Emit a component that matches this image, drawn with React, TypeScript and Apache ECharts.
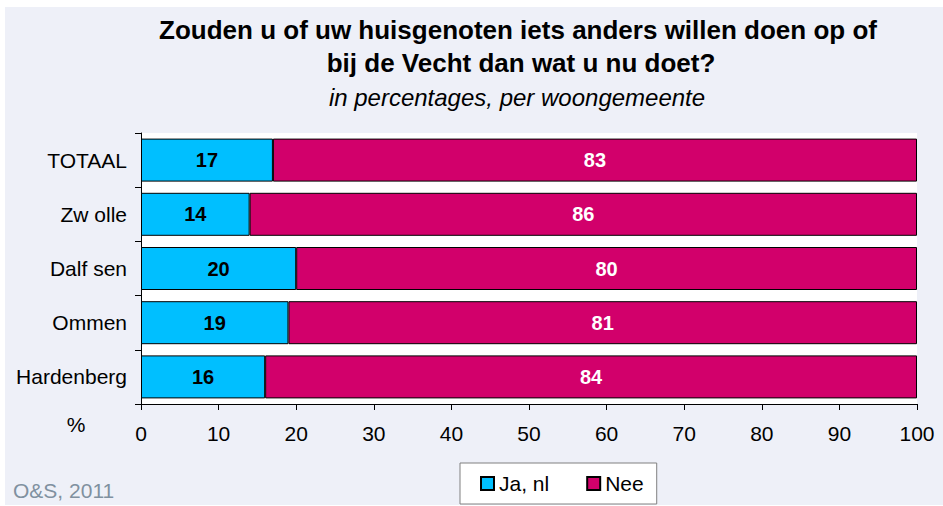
import React, { useEffect, useRef } from "react";
import * as echarts from "echarts";

const categories = ["TOTAAL", "Zwolle", "Dalfsen", "Ommen", "Hardenberg"];
const categoryLabels = ["TOTAAL", "Zw olle", "Dalf sen", "Ommen", "Hardenberg"];
const jaValues = [17, 14, 20, 19, 16];
const neeValues = [83, 86, 80, 81, 84];
const seriesNames = ["Ja, nl", "Nee"];
const xTicks = { min: 0, max: 100, interval: 10 };

const FONT = "'Liberation Sans', Arial, sans-serif";

export default function App() {
  const ref = useRef<HTMLDivElement>(null);
  useEffect(() => {
    const chart = echarts.init(ref.current!, null, { renderer: "svg" });
    chart.setOption({
      animation: false,
      backgroundColor: "#ffffff",
      textStyle: { fontFamily: FONT },
      graphic: [
        {
          type: "rect",
          z: -10,
          silent: true,
          shape: { x: 5, y: 7, width: 938, height: 498 },
          style: { fill: "#EEF0F8" },
        },
        {
          type: "text",
          x: 518,
          y: 30,
          style: {
            text: "Zouden u of uw huisgenoten iets anders willen doen op of",
            font: `bold 26px ${FONT}`,
            fill: "#000",
            textAlign: "center",
            textVerticalAlign: "middle",
          },
        },
        {
          type: "text",
          x: 521,
          y: 63,
          style: {
            text: "bij de Vecht dan wat u nu doet?",
            font: `bold 26px ${FONT}`,
            fill: "#000",
            textAlign: "center",
            textVerticalAlign: "middle",
          },
        },
        {
          type: "text",
          x: 517,
          y: 97,
          style: {
            text: "in percentages, per woongemeente",
            font: `italic 24px ${FONT}`,
            fill: "#000",
            textAlign: "center",
            textVerticalAlign: "middle",
          },
        },
        {
          type: "text",
          x: 76,
          y: 424,
          style: {
            text: "%",
            font: `21px ${FONT}`,
            fill: "#000",
            textAlign: "center",
            textVerticalAlign: "middle",
          },
        },
        {
          type: "text",
          x: 13,
          y: 490,
          style: {
            text: "O&S, 2011",
            font: `21px ${FONT}`,
            fill: "#8090A0",
            textAlign: "left",
            textVerticalAlign: "middle",
          },
        },
      ],
      grid: {
        left: 141,
        right: 26,
        top: 133,
        bottom: 102,
        show: true,
        backgroundColor: "#ffffff",
        borderWidth: 0,
      },
      legend: {
        left: 460,
        top: 463,
        padding: [10, 13, 10, 20],
        itemGap: 37,
        itemWidth: 13,
        itemHeight: 13,
        icon: "rect",
        backgroundColor: "#ffffff",
        borderColor: "#808080",
        borderWidth: 1,
        borderRadius: 0,
        textStyle: { fontSize: 21, color: "#000", fontFamily: FONT },
        data: seriesNames,
      },
      xAxis: {
        type: "value",
        min: xTicks.min,
        max: xTicks.max,
        interval: xTicks.interval,
        axisLine: { show: true, lineStyle: { color: "#000", width: 1 } },
        axisTick: { show: true, length: 6, lineStyle: { color: "#000" } },
        splitLine: { show: false },
        axisLabel: { fontSize: 21, color: "#000", margin: 19, fontFamily: FONT },
      },
      yAxis: {
        type: "category",
        inverse: true,
        data: categories,
        axisLine: { show: true, lineStyle: { color: "#000", width: 1 } },
        axisTick: { show: true, length: 6, lineStyle: { color: "#000" } },
        axisLabel: {
          fontSize: 21,
          color: "#000",
          margin: 14,
          fontFamily: FONT,
          formatter: (v: string) => categoryLabels[categories.indexOf(v)],
        },
      },
      series: [
        {
          name: seriesNames[0],
          type: "bar",
          stack: "total",
          barWidth: 43,
          data: jaValues,
          itemStyle: { color: "#00BFFF", borderColor: "#000", borderWidth: 1 },
          label: {
            show: true,
            position: "inside",
            color: "#000",
            fontWeight: "bold",
            fontSize: 20,
            fontFamily: FONT,
          },
        },
        {
          name: seriesNames[1],
          type: "bar",
          stack: "total",
          barWidth: 43,
          data: neeValues,
          itemStyle: { color: "#D2006B", borderColor: "#000", borderWidth: 1 },
          label: {
            show: true,
            position: "inside",
            color: "#fff",
            fontWeight: "bold",
            fontSize: 20,
            fontFamily: FONT,
          },
        },
      ],
    });
    return () => chart.dispose();
  }, []);
  return (
    <div
      ref={ref}
      style={{ position: "fixed", left: 0, top: 0, width: 943, height: 506 }}
    />
  );
}
